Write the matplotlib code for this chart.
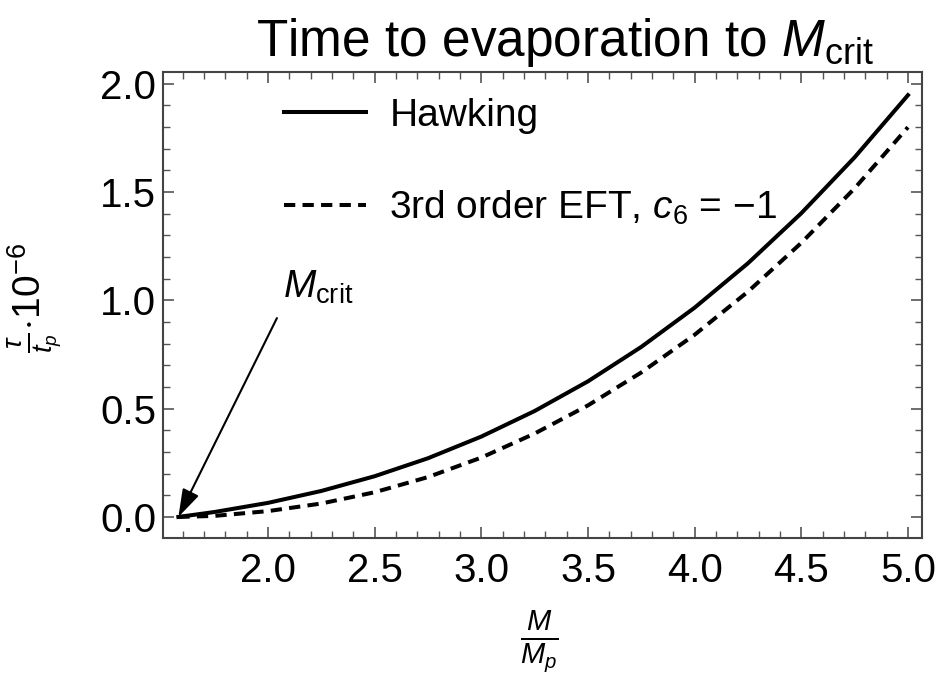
import matplotlib
matplotlib.use("Agg")
import matplotlib.pyplot as plt
from matplotlib.ticker import MultipleLocator

plt.rcParams['font.family'] = ['Liberation Sans', 'DejaVu Sans']
plt.rcParams['mathtext.fontset'] = 'custom'
plt.rcParams['mathtext.rm'] = 'Liberation Sans'
plt.rcParams['mathtext.it'] = 'Liberation Sans:italic'
plt.rcParams['mathtext.bf'] = 'Liberation Sans:bold'

# M / M_p, from M_crit up to 5
mass = [1.58, 1.75, 2.0, 2.25, 2.5, 2.75, 3.0, 3.25, 3.5, 3.75, 4.0, 4.25, 4.5, 4.75, 5.0]
# tau / t_p * 10^-6
t_hawking = [0.0, 0.023, 0.065, 0.120, 0.188, 0.271, 0.371, 0.489, 0.626, 0.785,
             0.966, 1.171, 1.402, 1.660, 1.947]
t_eft = [0.0, 0.005, 0.027, 0.062, 0.114, 0.184, 0.274, 0.385, 0.515, 0.667,
         0.841, 1.040, 1.265, 1.517, 1.799]
m_crit = 1.58

fig = plt.figure(figsize=(9.45, 6.79), dpi=100)
ax = fig.add_axes([0.1725, 0.2077, 0.8032, 0.6863])

ax.plot(mass, t_hawking, color='black', lw=2.9, label='Hawking')
ax.plot(mass, t_eft, color='black', lw=2.9, dashes=(2.8, 1.8),
        label='3rd order EFT, $c_6$ = \u22121')

ax.set_xlim(1.508, 5.066)
ax.set_ylim(-0.097, 2.054)
ax.xaxis.set_major_locator(MultipleLocator(0.5))
ax.xaxis.set_minor_locator(MultipleLocator(0.1))
ax.yaxis.set_major_locator(MultipleLocator(0.5))
ax.yaxis.set_minor_locator(MultipleLocator(0.1))
ax.tick_params(which='both', direction='in', top=True, right=True,
               colors='#555555', labelcolor='black')
ax.tick_params(which='major', length=8, width=1.2, labelsize=29)
ax.tick_params(which='minor', length=5, width=1.0)
ax.tick_params(axis='x', pad=10)
ax.tick_params(axis='y', pad=5)
for s in ax.spines.values():
    s.set_color('#444444')
    s.set_linewidth(1.5)

ax.legend(loc='upper left', bbox_to_anchor=(0.16, 0.944), frameon=False,
          fontsize=28, handlelength=2.1, handletextpad=0.6, labelspacing=1.41,
          borderpad=0, borderaxespad=0)

# arrow pointing at M_crit
ax.annotate('', xy=(m_crit, 0.0), xytext=(2.042, 0.918),
            arrowprops=dict(arrowstyle='-|>,head_length=0.85,head_width=0.27',
                            mutation_scale=20, color='black', lw=1.5,
                            shrinkA=0, shrinkB=0))
ax.text(2.07, 1.06, r'$M_{\rm crit}$', fontsize=28, va='center', ha='left')

fig.text(0.598, 0.918, r'Time to evaporation to $M_{\rm crit}$', fontsize=37,
         ha='center', va='baseline')
fig.text(0.037, 0.561, r'$\frac{\tau}{t_p}{\cdot}10^{-6}$', fontsize=28,
         rotation=90, ha='center', va='center')
fig.text(0.571, 0.054, r'$\frac{M}{M_p}$', fontsize=30, ha='center', va='center')

fig.savefig('out.png', dpi=100)
